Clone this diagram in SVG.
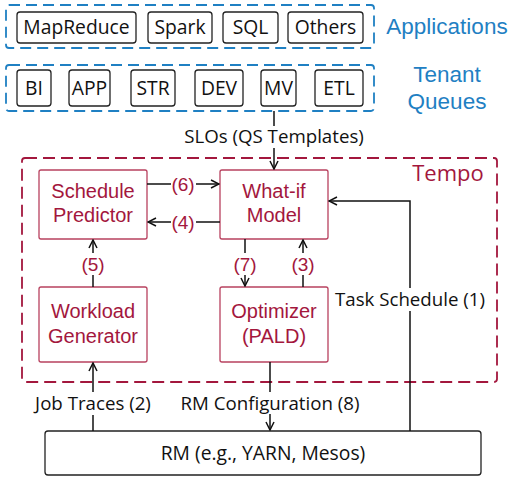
<svg xmlns="http://www.w3.org/2000/svg" width="511" height="478" viewBox="0 0 511 478">
<style>
text{font-family:"Open Sans","Noto Sans","DejaVu Sans",sans-serif}
.bb{fill:#fff;stroke:#222;stroke-width:1.3}
.bt{font-size:19.3px;fill:#111;text-anchor:middle}
.grp{fill:none;stroke:#1f80c3;stroke-width:1.8;stroke-dasharray:11 6}
.gt{font-family:"Liberation Sans",Arial,sans-serif;font-size:22.5px;fill:#1f80c3;text-anchor:middle}
.tb{fill:#fff;stroke:#b8415f;stroke-width:1.3}
.tt{font-family:"Liberation Sans",Arial,sans-serif;font-size:20px;fill:#a3173d;text-anchor:middle}
.tempo{fill:none;stroke:#a3173d;stroke-width:1.8;stroke-dasharray:12 6}
.c{fill:none;stroke:#111;stroke-width:1.5}
.lbl{font-size:18.7px;fill:#111;text-anchor:middle}
.nl{font-family:"Liberation Sans",Arial,sans-serif;font-size:19px;fill:#a3173d;text-anchor:middle}
.bg{fill:#fff}
</style>
<defs>
<marker id="ah" viewBox="0 0 10 10" refX="9" refY="5" markerWidth="10" markerHeight="10" markerUnits="userSpaceOnUse" orient="auto">
<path d="M1,1 L9,5 L1,9" fill="none" stroke="#111" stroke-width="1.5"/>
</marker>
</defs>

<g id="applications">
<rect class="grp" x="6" y="5" width="368" height="43" rx="3"/>
<text class="gt" x="447" y="34">Applications</text>
</g>
<g id="app-mapreduce"><rect class="bb" x="17" y="12" width="119" height="31" rx="3"/><text class="bt" x="76.5" y="34">MapReduce</text></g>
<g id="app-spark"><rect class="bb" x="148" y="12" width="64" height="31" rx="3"/><text class="bt" x="180" y="34">Spark</text></g>
<g id="app-sql"><rect class="bb" x="223" y="12" width="55" height="31" rx="3"/><text class="bt" x="250.5" y="34">SQL</text></g>
<g id="app-others"><rect class="bb" x="288" y="12" width="75" height="31" rx="3"/><text class="bt" x="325.5" y="34">Others</text></g>

<g id="tenant-queues">
<rect class="grp" x="6" y="65" width="368" height="46" rx="3"/>
<text class="gt" x="447" y="82">Tenant</text>
<text class="gt" x="447" y="109">Queues</text>
</g>
<g id="q-bi"><rect class="bb" x="17" y="70" width="34" height="36" rx="3"/><text class="bt" x="34" y="95">BI</text></g>
<g id="q-app"><rect class="bb" x="69" y="70" width="41" height="36" rx="3"/><text class="bt" x="89.5" y="95">APP</text></g>
<g id="q-str"><rect class="bb" x="131" y="70" width="44" height="36" rx="3"/><text class="bt" x="153" y="95">STR</text></g>
<g id="q-dev"><rect class="bb" x="195" y="70" width="48" height="36" rx="3"/><text class="bt" x="219" y="95">DEV</text></g>
<g id="q-mv"><rect class="bb" x="261" y="70" width="35" height="36" rx="3"/><text class="bt" x="278.5" y="95">MV</text></g>
<g id="q-etl"><rect class="bb" x="315" y="70" width="48" height="36" rx="3"/><text class="bt" x="339" y="95">ETL</text></g>

<g id="tempo">
<rect class="tempo" x="22" y="158" width="475" height="224" rx="3"/>
<text x="448" y="181" style="font-size:22px;fill:#a3173d;text-anchor:middle">Tempo</text>
</g>
<g id="schedule-predictor"><rect class="tb" x="39" y="170" width="108" height="69" rx="2"/><text class="tt" x="93" y="198">Schedule</text><text class="tt" x="93" y="222">Predictor</text></g>
<g id="what-if"><rect class="tb" x="220" y="170" width="108" height="69" rx="2"/><text class="tt" x="274" y="198">What-if</text><text class="tt" x="274" y="222">Model</text></g>
<g id="workload-generator"><rect class="tb" x="39" y="287" width="108" height="75" rx="2"/><text class="tt" x="93" y="318">Workload</text><text class="tt" x="93" y="343">Generator</text></g>
<g id="optimizer"><rect class="tb" x="220" y="287" width="108" height="75" rx="2"/><text class="tt" x="274" y="318">Optimizer</text><text class="tt" x="274" y="343">(PALD)</text></g>
<g id="rm"><rect class="bb" x="45" y="431" width="436" height="44" rx="3"/><text class="bt" x="263" y="460">RM (e.g., YARN, Mesos)</text></g>

<g id="connectors">
<path class="c" d="M274,111 V169" marker-end="url(#ah)"/>
<rect class="bg" x="176" y="126" width="196" height="22"/>
<text class="lbl" x="274" y="143">SLOs (QS Templates)</text>

<path class="c" d="M147,184 H219" marker-end="url(#ah)"/>
<rect class="bg" x="171" y="174" width="25" height="20"/>
<text class="nl" x="183" y="191">(6)</text>

<path class="c" d="M220,222 H148" marker-end="url(#ah)"/>
<rect class="bg" x="171" y="212" width="25" height="20"/>
<text class="nl" x="183" y="229">(4)</text>

<path class="c" d="M93,287 V240" marker-end="url(#ah)"/>
<rect class="bg" x="82" y="253" width="22" height="22"/>
<text class="nl" x="93" y="271">(5)</text>

<path class="c" d="M245,239 V286" marker-end="url(#ah)"/>
<rect class="bg" x="234" y="253" width="22" height="22"/>
<text class="nl" x="245" y="271">(7)</text>

<path class="c" d="M303,287 V240" marker-end="url(#ah)"/>
<rect class="bg" x="292" y="253" width="22" height="22"/>
<text class="nl" x="303" y="271">(3)</text>

<path class="c" d="M410,431 V201 H329" marker-end="url(#ah)"/>
<rect class="bg" x="334" y="288" width="153" height="23"/>
<text class="lbl" x="410" y="306">Task Schedule (1)</text>

<path class="c" d="M93,431 V363" marker-end="url(#ah)"/>
<rect class="bg" x="26" y="392" width="134" height="23"/>
<text class="lbl" x="93" y="410">Job Traces (2)</text>

<path class="c" d="M270,362 V430" marker-end="url(#ah)"/>
<rect class="bg" x="172" y="392" width="197" height="22"/>
<text class="lbl" x="270" y="410">RM Configuration (8)</text>
</g>
</svg>
